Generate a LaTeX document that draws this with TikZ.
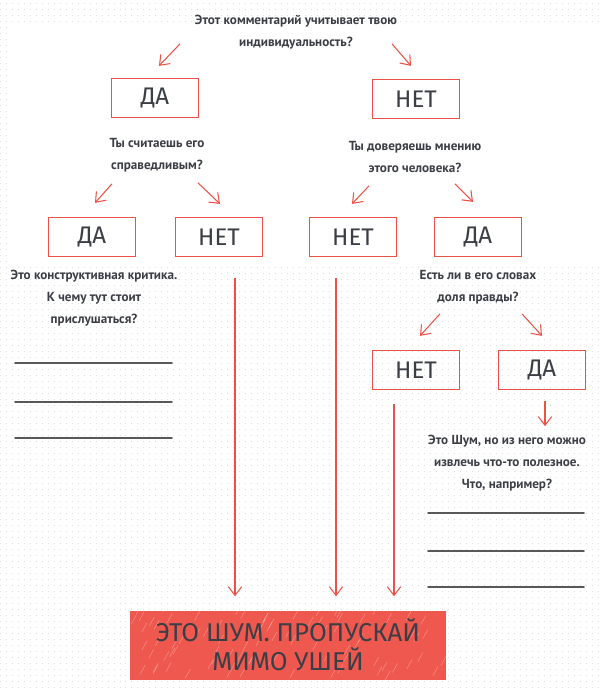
\documentclass[tikz,border=0pt]{standalone}
\usepackage{fontspec}
\setmainfont{PT Sans}
\newfontfamily\boxfont{Fira Sans}
\usetikzlibrary{arrows.meta}
\definecolor{penred}{RGB}{234,82,72}
\definecolor{noisered}{RGB}{238,88,78}
\definecolor{inkgray}{RGB}{60,62,70}
\definecolor{dotgray}{RGB}{222,222,222}
\tikzset{
  question/.style={align=center, text=inkgray, font=\bfseries\fontsize{11.2}{19}\selectfont},
  answer/.style={draw=penred, line width=1.1pt, minimum width=2.6cm, minimum height=1.17cm,
    text=inkgray, font=\boxfont\fontsize{20.5}{24}\selectfont},
  arr/.style={draw=penred, line width=0.9pt, -{Straight Barb[length=0.26cm,width=0.4cm]}},
  longarr/.style={arr, shorten >=0.42cm},
  writeline/.style={draw=black!65, line width=1.3pt, line cap=round}
}
\begin{document}
\begin{tikzpicture}[x=0.03cm,y=-0.03cm]
  \useasboundingbox (0,0) rectangle (600,691);
  % dotted paper
  \foreach \y in {3,9,...,691}
    \draw[dotgray, line width=0.7pt, dash pattern=on 0.7pt off 4.4pt] (0,\y) -- (600,\y);
  \fill[white] (9,22) rectangle (600,262);

  % questions
  \node[question] (q1) at (296,32) {Этот комментарий учитывает твою\\индивидуальность?};
  \node[question] (q2) at (157,155) {Ты считаешь его\\справедливым?};
  \node[question] (q3) at (415,157) {Ты доверяешь мнению\\этого человека?};
  \node[question] (q4) at (478,287) {Есть ли в его словах\\доля правды?};
  \node[question] (t1) at (94,298) {Это конструктивная критика.\\К чему тут стоит\\прислушаться?};
  \node[question] (t2) at (507,463) {Это Шум, но из него можно\\извлечь что-то полезное.\\Что, например?};

  % answers
  \node[answer] (yes1) at (155,98) {ДА};
  \node[answer] (no1) at (416,99) {НЕТ};
  \node[answer] (yes2) at (92,237) {ДА};
  \node[answer] (no2) at (219,237) {НЕТ};
  \node[answer] (no3) at (353,237) {НЕТ};
  \node[answer] (yes3) at (478,237) {ДА};
  \node[answer] (no4) at (416,370) {НЕТ};
  \node[answer] (yes4) at (542,370) {ДА};

  % final box
  \node[fill=noisered, minimum width=9.48cm, minimum height=2.07cm] (noise) at (288,645) {};
  \begin{scope}
    \clip (noise.south west) rectangle (noise.north east);
    \pgfmathsetseed{7}
    \foreach \i in {1,...,90} {
      \pgfmathsetmacro\hx{130+316*rnd}
      \pgfmathsetmacro\hy{611+69*rnd}
      \draw[white, opacity=0.35, line width=0.4pt] (\hx,\hy) -- ++(5,-9);
    }
  \end{scope}
  \node[text=inkgray, font=\boxfont\fontsize{22}{25}\selectfont, align=center] (noisetext) at (noise)
    {ЭТО ШУМ. ПРОПУСКАЙ\\МИМО УШЕЙ};

  % short arrows
  \draw[arr] ([shift={(25,-34)}]yes1.north) -- ([shift={(4,-12)}]yes1.north);
  \draw[arr] ([shift={(-24,-35)}]no1.north) -- ([shift={(-5,-13)}]no1.north);
  \draw[arr] ([shift={(20,-33)}]yes2.north) -- ([shift={(3,-14)}]yes2.north);
  \draw[arr] ([shift={(-21,-34)}]no2.north) -- ([shift={(1,-13)}]no2.north);
  \draw[arr] ([shift={(16,-31)}]no3.north) -- ([shift={(-1,-13)}]no3.north);
  \draw[arr] ([shift={(-23,-33)}]yes3.north) -- ([shift={(-5,-15)}]yes3.north);
  \draw[arr] ([shift={(24,-36)}]no4.north) -- ([shift={(4,-14)}]no4.north);
  \draw[arr] ([shift={(-20,-36)}]yes4.north) -- ([shift={(0,-14)}]yes4.north);
  \draw[arr] ([shift={(3,11)}]yes4.south) -- ([shift={(3,36)}]yes4.south);

  % long arrows to the noise box
  \coordinate (s2) at ([shift={(16,21)}]no2.south);
  \coordinate (s3) at ([shift={(-17,21)}]no3.south);
  \coordinate (s4) at ([shift={(-22,14)}]no4.south);
  \draw[longarr] (s2) -- (s2 |- noise.north);
  \draw[longarr] (s3) -- (s3 |- noise.north);
  \draw[longarr] (s4) -- (s4 |- noise.north);

  % lines to write on
  \foreach \y in {363,402,438}
    \draw[writeline] (15,\y) -- (172,\y);
  \foreach \y in {513,551,587}
    \draw[writeline] (428,\y) -- (584,\y);
\end{tikzpicture}
\end{document}
